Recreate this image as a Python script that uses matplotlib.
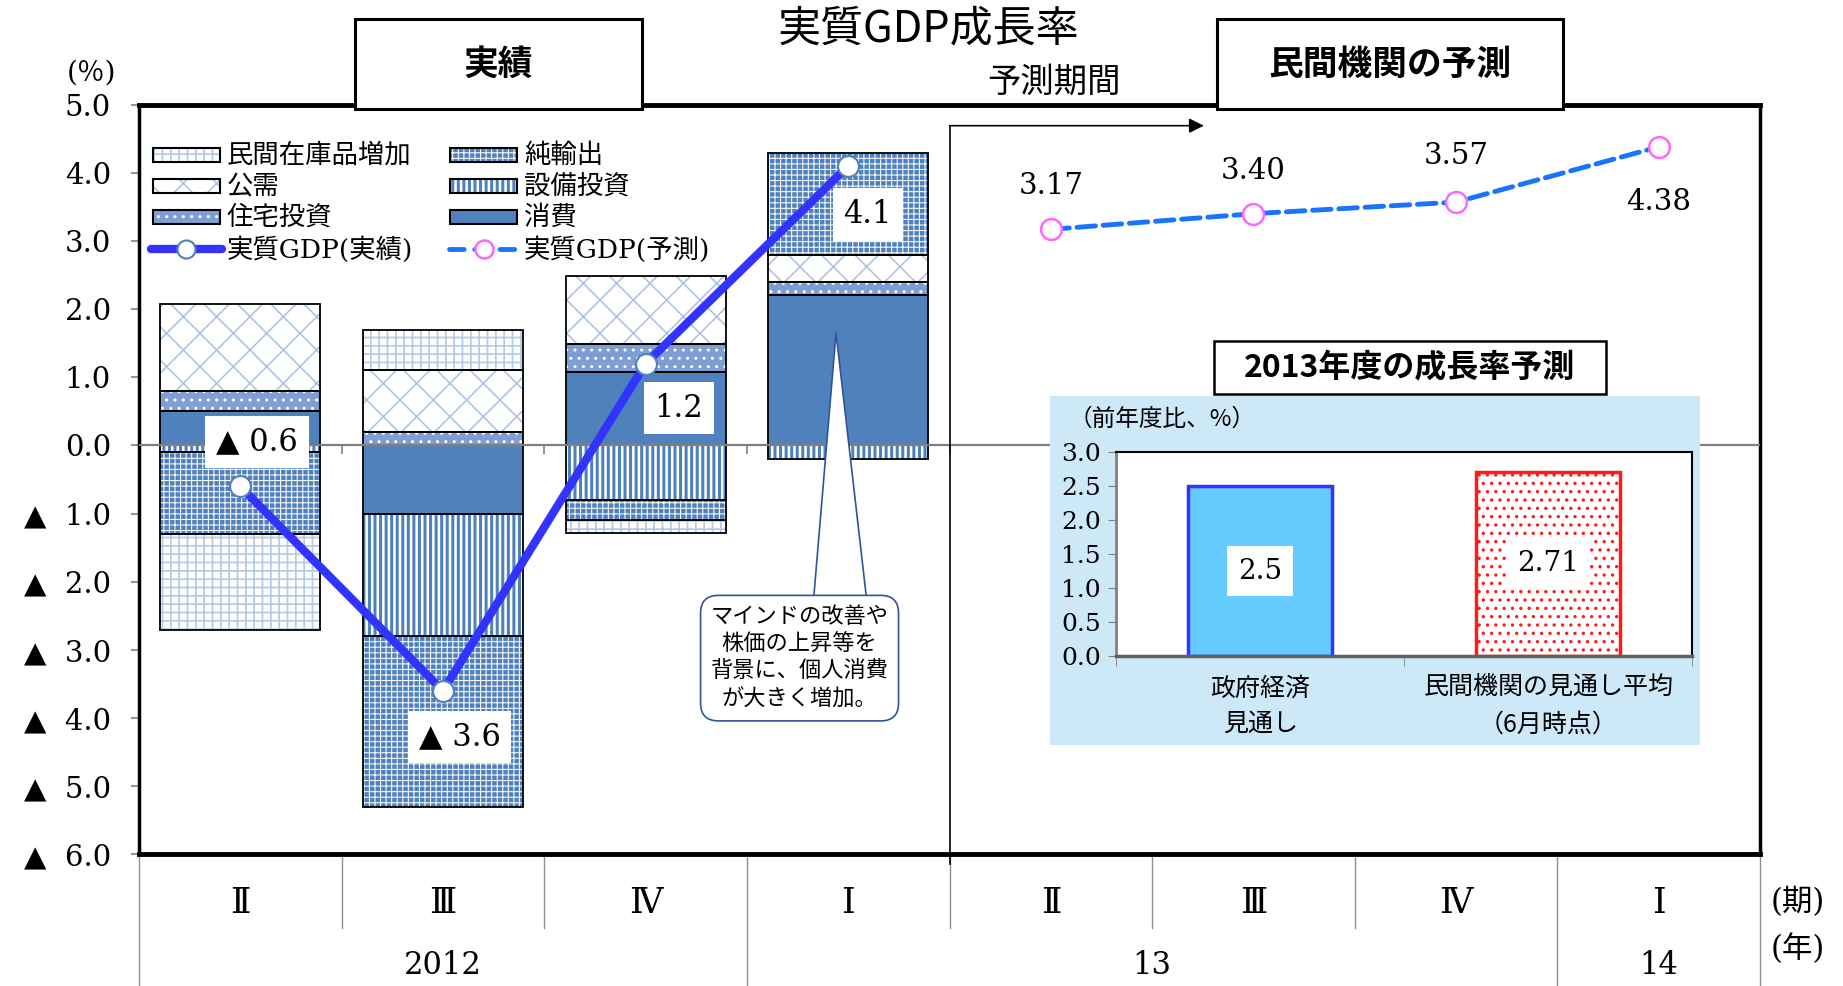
import matplotlib
matplotlib.use('Agg')
import matplotlib.pyplot as plt
from matplotlib.patches import Rectangle
from matplotlib.lines import Line2D
import matplotlib.transforms as mtransforms
import numpy as np

plt.rcParams['font.family'] = ['DejaVu Serif', 'Noto Sans CJK JP']
plt.rcParams['hatch.linewidth'] = 1.2
JP = ['Noto Sans CJK JP', 'DejaVu Sans']

# ---------------- data ----------------
quarters = ['Ⅱ', 'Ⅲ', 'Ⅳ', 'Ⅰ', 'Ⅱ', 'Ⅲ', 'Ⅳ', 'Ⅰ']
years = ['2012', '13', '14']
year_spans = [3, 4, 1]
actual_idx = [1, 2, 3, 4]
forecast_idx = [5, 6, 7, 8]

consumption = [0.50, -1.00, 1.08, 2.20]
capex = [-0.10, -1.80, -0.80, -0.20]
housing = [0.30, 0.20, 0.41, 0.20]
public = [1.28, 0.90, 0.99, 0.40]
net_exports = [-1.20, -2.50, -0.30, 1.49]
inventory = [-1.40, 0.60, -0.19, 0.00]

gdp_actual = [-0.6, -3.6, 1.2, 4.1]
gdp_actual_labels = ['▲ 0.6', '▲ 3.6', '1.2', '4.1']
gdp_forecast = [3.17, 3.40, 3.57, 4.38]
gdp_forecast_labels = ['3.17', '3.40', '3.57', '4.38']

ytick_values = [5, 4, 3, 2, 1, 0, -1, -2, -3, -4, -5, -6]
ytick_labels = ['5.0', '4.0', '3.0', '2.0', '1.0', '0.0',
                '▲  1.0', '▲  2.0', '▲  3.0', '▲  4.0', '▲  5.0', '▲  6.0']

inset_categories = ['政府経済\n見通し', '民間機関の見通し平均\n（6月時点）']
inset_values = [2.5, 2.71]
inset_labels = ['2.5', '2.71']

# ---------------- styles ----------------
components = [
    ('消費', consumption, dict(face='#4f81bd', hatch=None, hc='#4f81bd', hlw=1.0)),
    ('設備投資', capex, dict(face='white', hatch='|||', hc='#4f81bd', hlw=2.2)),
    ('住宅投資', housing, dict(face='#7f9fd4', hatch='..', hc='white', hlw=1.0)),
    ('公需', public, dict(face='white', hatch='x', hc='#a9c0e5', hlw=1.1)),
    ('純輸出', net_exports, dict(face='#4f81bd', hatch='+++', hc='white', hlw=0.75)),
    ('民間在庫品増加', inventory, dict(face='white', hatch='++', hc='#b4c8e8', hlw=1.2)),
]
style_of = {name: st for name, _, st in components}


def set_hlw(patch, lw):
    if hasattr(patch, 'set_hatch_linewidth'):
        try:
            patch.set_hatch_linewidth(lw)
        except Exception:
            pass


fig = plt.figure(figsize=(18.43, 9.86), dpi=100)
ax = fig.add_axes([0.0754, 0.1334, 0.8796, 0.7605], zorder=0)
ax.set_xlim(0.5, 8.5)
ax.set_ylim(-6, 5)

x = np.array(actual_idx, dtype=float)
pos = np.zeros(len(x))
neg = np.zeros(len(x))
W = 0.79
for name, vals, st in components:
    v = np.array(vals, dtype=float)
    bottom = np.where(v >= 0, pos, neg)
    mask = v != 0
    bars = ax.bar(x[mask], v[mask], bottom=bottom[mask], width=W, color=st['face'],
                  edgecolor=st['hc'], hatch=st['hatch'], linewidth=0, zorder=2)
    for b in bars:
        set_hlw(b, st['hlw'])
    ax.bar(x[mask], v[mask], bottom=bottom[mask], width=W, fill=False,
           edgecolor='black', linewidth=1.3, zorder=2.1)
    pos = pos + np.where(v > 0, v, 0)
    neg = neg + np.where(v < 0, v, 0)

# zero line and its ticks
ax.axhline(0, color='#808080', lw=1.6, zorder=3)
ax.vlines([1.5, 2.5, 3.5, 4.5, 5.5, 6.5, 7.5], -0.12, 0, color='#808080', lw=1.2, zorder=3)

# GDP lines
ax.plot(actual_idx, gdp_actual, color='#3333ff', lw=6, marker='o', ms=15,
        mfc='white', mec='#4f81bd', mew=1.5, zorder=5, solid_capstyle='round')
ax.plot(forecast_idx, gdp_forecast, color='#1874ff', lw=3.5, ls=(0, (3.8, 1.6)),
        dash_capstyle='round', marker='o', ms=15, mfc='white', mec='#ff66ff',
        mew=1.8, zorder=5)

act_offsets = [(12, 32), (12, -33), (24, -32), (14, -35)]
for xi, yi, lab, off in zip(actual_idx, gdp_actual, gdp_actual_labels, act_offsets):
    ax.annotate(lab, (xi, yi), xytext=off, textcoords='offset points', ha='center',
                va='center', fontsize=22, zorder=6,
                bbox=dict(boxstyle='square,pad=0.35', fc='white', ec='none'))
fc_offsets = [(0, 31), (0, 31), (0, 33), (0, -40)]
for xi, yi, lab, off in zip(forecast_idx, gdp_forecast, gdp_forecast_labels, fc_offsets):
    ax.annotate(lab, (xi, yi), xytext=off, textcoords='offset points', ha='center',
                va='center', fontsize=21, zorder=6)

# callout: wedge then box
ax.annotate('', xy=(3.94, 1.65), xytext=(3.96, -2.28),
            arrowprops=dict(arrowstyle='wedge,tail_width=2.4,shrink_factor=0.5',
                            fc='white', ec='#2f5597', lw=1.2, shrinkA=0, shrinkB=0,
                            mutation_scale=16),
            zorder=6)
ax.text(3.76, -3.12, 'マインドの改善や\n株価の上昇等を\n背景に、個人消費\nが大きく増加。',
        fontsize=16, family=JP, ha='center', va='center', linespacing=1.25, zorder=7,
        bbox=dict(boxstyle='round,pad=0.45,rounding_size=0.8', fc='white',
                  ec='#2f5597', lw=1.2))

# axes styling
ax.set_yticks(ytick_values)
ax.set_yticklabels(ytick_labels)
ax.tick_params(axis='y', direction='out', length=6, width=1.2, color='#808080',
               pad=14, labelsize=21)
ax.set_xticks([])
for s in ax.spines.values():
    s.set_color('black')
    s.set_linewidth(2.5)
ax.spines['top'].set_linewidth(3.5)
ax.spines['bottom'].set_linewidth(3.5)

trans = mtransforms.blended_transform_factory(ax.transData, ax.transAxes)
# bottom table
for b in [1.5, 2.5, 4.5, 5.5, 6.5]:
    ax.plot([b, b], [0, -0.0985], transform=trans, color='#909090', lw=1, clip_on=False)
for b in [0.5, 3.5, 7.5, 8.5]:
    ax.plot([b, b], [0, -0.18], transform=trans, color='#909090', lw=1, clip_on=False)
for i, q in enumerate(quarters):
    ax.text(i + 1, -0.0643, q, transform=trans, ha='center', va='center',
            fontsize=25)
start = 0.5
for y, span in zip(years, year_spans):
    ax.text(start + span / 2, -0.148, y, transform=trans, ha='center', va='center',
            fontsize=22)
    start += span
fig.text(0.9756, 0.0846, '(期)', ha='center', va='center', fontsize=22)
fig.text(0.9756, 0.0369, '(年)', ha='center', va='center', fontsize=22)

# divider and arrow
ax.plot([4.5, 4.5], [-0.0124, 0.9719], transform=trans, color='black', lw=1.2,
        clip_on=False, zorder=4)
ax.annotate('', xy=(5.755, 0.9719), xytext=(4.5, 0.9719), xycoords=trans,
            textcoords=trans,
            arrowprops=dict(arrowstyle='-|>', color='black', lw=1.2, mutation_scale=22,
                            shrinkA=0, shrinkB=0))

# manual legend
def leg_patch(xc0, xc1, yc, st):
    h = 0.0187
    r = Rectangle((xc0, yc - h / 2), xc1 - xc0, h, transform=ax.transAxes,
                  facecolor=st['face'], edgecolor=st['hc'], hatch=st['hatch'],
                  linewidth=0, zorder=4)
    set_hlw(r, st['hlw'])
    ax.add_patch(r)
    ax.add_patch(Rectangle((xc0, yc - h / 2), xc1 - xc0, h, transform=ax.transAxes,
                           fill=False, edgecolor='black', linewidth=1.5, zorder=4))

rows = [0.9327, 0.8919, 0.8496, 0.8072]
col1 = ['民間在庫品増加', '公需', '住宅投資']
col2 = ['純輸出', '設備投資', '消費']
for yc, n in zip(rows, col1):
    leg_patch(0.0085, 0.0499, yc, style_of[n])
    ax.text(0.0542, yc, n, transform=ax.transAxes, va='center', ha='left', fontsize=19)
for yc, n in zip(rows, col2):
    leg_patch(0.192, 0.2333, yc, style_of[n])
    ax.text(0.2376, yc, n, transform=ax.transAxes, va='center', ha='left', fontsize=19)
ax.add_line(Line2D([0.0075, 0.0292, 0.0510], [rows[3]] * 3, transform=ax.transAxes,
                   color='#3333ff', lw=6, solid_capstyle='round', marker='o', ms=13,
                   markevery=[1], mfc='white', mec='#4f81bd', mew=1.5, zorder=4))
ax.text(0.0542, rows[3], '実質GDP(実績)', transform=ax.transAxes, va='center',
        ha='left', fontsize=19)
ax.add_line(Line2D([0.1915, 0.2126, 0.2340], [rows[3]] * 3, transform=ax.transAxes,
                   color='#1874ff', lw=3.5, ls=(0, (3.0, 2.2)), dash_capstyle='round',
                   marker='o', ms=13, markevery=[1], mfc='white', mec='#ff66ff',
                   mew=1.8, zorder=4))
ax.text(0.2376, rows[3], '実質GDP(予測)', transform=ax.transAxes, va='center',
        ha='left', fontsize=19)

# header texts and boxes
fig.text(0.5038, 0.970, '実質GDP成長率', ha='center', va='center', fontsize=31,
         family=JP)
for (x0, w), label in [((0.1926, 0.1556), '実績'), ((0.6601, 0.1882), '民間機関の予測')]:
    fig.add_artist(Rectangle((x0, 0.8891), w, 0.0918, transform=fig.transFigure,
                             facecolor='white', edgecolor='black', linewidth=2.2,
                             zorder=2.5))
    fig.text(x0 + w / 2, 0.8891 + 0.0918 / 2, label, ha='center', va='center',
             fontsize=25, weight='bold', family=JP, zorder=3)
fig.text(0.5719, 0.9165, '予測期間', ha='center', va='center', fontsize=24, family=JP)
fig.text(0.0497, 0.926, '(％)', ha='center', va='center', fontsize=20)

# inset panel
fig.add_artist(Rectangle((0.5695, 0.2443), 0.3527, 0.3541, transform=fig.transFigure,
                         facecolor='#cde9f8', edgecolor='none', zorder=1))
fig.add_artist(Rectangle((0.6588, 0.6007), 0.2124, 0.0537, transform=fig.transFigure,
                         facecolor='white', edgecolor='black', linewidth=1.8, zorder=2.5))
fig.text(0.6588 + 0.2124 / 2, 0.6007 + 0.0537 / 2, '2013年度の成長率予測', ha='center',
         va='center', fontsize=23, weight='bold', family=JP, zorder=3)
fig.text(0.6308, 0.5744, '（前年度比、%）', ha='center', va='center', fontsize=17,
         family=JP, zorder=3)

ax2 = fig.add_axes([0.6055, 0.3349, 0.3128, 0.2062], zorder=2)
ax2.bar([0], [inset_values[0]], width=0.5, color='#66ccff', edgecolor='#3333ff',
        linewidth=2.5)
ax2.bar([1], [inset_values[1]], width=0.5, color='white', edgecolor='#ff1a1a',
        hatch='..', linewidth=2.5)
for xi, (v, lab) in enumerate(zip(inset_values, inset_labels)):
    ax2.text(xi, v / 2, lab, ha='center', va='center', fontsize=20,
             bbox=dict(boxstyle='square,pad=0.4', fc='white', ec='none'))
ax2.set_xlim(-0.5, 1.5)
ax2.set_ylim(0, 3)
ax2.set_yticks(np.arange(0, 3.01, 0.5))
ax2.set_yticklabels(['%.1f' % t for t in np.arange(0, 3.01, 0.5)])
ax2.tick_params(axis='y', direction='out', length=6, color='#808080', labelsize=18,
                pad=5)
ax2.set_xticks([0, 1])
ax2.set_xticklabels(inset_categories, family=JP, fontsize=18, linespacing=1.5)
ax2.tick_params(axis='x', which='major', length=0, pad=14)
ax2.set_xticks([-0.5, 0.5, 1.5], minor=True)
ax2.tick_params(axis='x', which='minor', direction='out', length=7, color='#808080')
ax2.spines['left'].set_color('#808080')
ax2.spines['bottom'].set_color('#606060')
ax2.spines['left'].set_linewidth(2)
ax2.spines['bottom'].set_linewidth(2.5)
ax2.spines['top'].set_linewidth(1.5)
ax2.spines['right'].set_linewidth(1.5)

fig.savefig('out.png', dpi=100)
